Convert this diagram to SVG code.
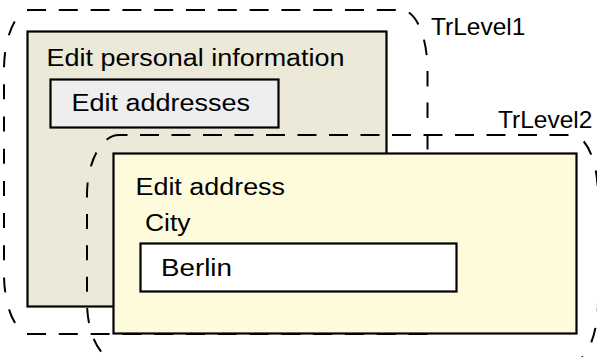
<svg xmlns="http://www.w3.org/2000/svg" width="597" height="357" viewBox="0 0 597 357">
  <style>
    .lbl { font-family: "Liberation Sans", Arial, sans-serif; font-size: 23.5px; fill: #000; }
    .tr { font-family: "Liberation Sans", Arial, sans-serif; font-size: 24.5px; fill: #000; }
    .box { stroke: #000; stroke-width: 2.2; }
    .dash { fill: none; stroke: #000; stroke-width: 2; }
    .h { stroke-dasharray: 19 12.8; }
    .v { stroke-dasharray: 15 16.5; }
  </style>

  <!-- Transaction level 1 boundary -->
  <g id="trlevel1">
    <path class="dash h" d="M27,10 H401.5"/>
    <path class="dash" stroke-dasharray="15.5 16" stroke-dashoffset="23.5" d="M401.5,10 A26,60 0 0 1 427.5,70 V300"/>
    <path class="dash" stroke-dasharray="15 17.2" stroke-dashoffset="12.2" d="M30,10 A26,60 0 0 0 4,70 V274 A26,60 0 0 0 30,334"/>
    <path class="dash h" d="M27,334 H430"/>
    <text class="tr" x="431" y="35">TrLevel1</text>
  </g>

  <!-- Edit personal information window -->
  <g id="edit-personal-information">
    <rect class="box" x="27.5" y="31.5" width="359" height="275" fill="#ECE9D8"/>
    <text class="lbl" x="46.5" y="65.5" textLength="298" lengthAdjust="spacingAndGlyphs">Edit personal information</text>
  </g>

  <!-- Edit addresses button -->
  <g id="edit-addresses">
    <rect class="box" x="50.5" y="79.5" width="228" height="48" fill="#EEEEEE"/>
    <text class="lbl" x="71.5" y="111" textLength="178.5" lengthAdjust="spacingAndGlyphs">Edit addresses</text>
  </g>

  <!-- Transaction level 2 boundary -->
  <g id="trlevel2">
    <path class="dash" stroke-dasharray="19 12.5" stroke-dashoffset="10.5" d="M119,135 H572"/>
    <path class="dash" stroke-dasharray="15 16.4" stroke-dashoffset="1.5" d="M119,135 A32,60 0 0 0 87,195 V302 A32,60 0 0 0 119,362"/>
    <path class="dash v" stroke-dashoffset="17.5" d="M572,135 A26,60 0 0 1 598,195 V302 A26,60 0 0 1 572,362"/>
    <path class="dash h" d="M119,362 H572"/>
    <text class="tr" x="498" y="128">TrLevel2</text>
  </g>

  <!-- Edit address window -->
  <g id="edit-address">
    <rect class="box" x="113.5" y="153.5" width="463" height="180" fill="#FEFBDC"/>
    <text class="lbl" x="135.5" y="195" textLength="149.5" lengthAdjust="spacingAndGlyphs">Edit address</text>
  </g>

  <!-- City field -->
  <g id="city">
    <text class="lbl" x="145" y="231" textLength="45.5" lengthAdjust="spacingAndGlyphs">City</text>
    <rect class="box" x="140.5" y="243.5" width="316" height="48" fill="#FFFFFF"/>
    <text class="lbl" x="161" y="276" textLength="71" lengthAdjust="spacingAndGlyphs">Berlin</text>
  </g>
</svg>
